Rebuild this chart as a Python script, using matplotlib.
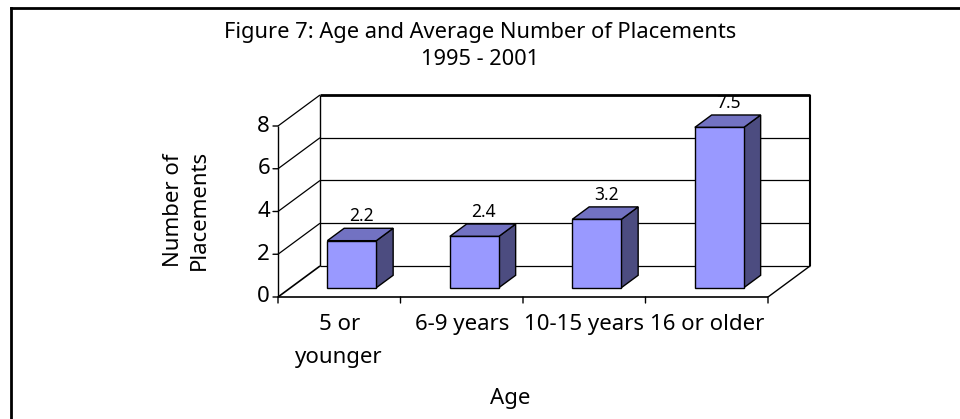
import matplotlib
matplotlib.use('Agg')
import matplotlib.pyplot as plt
from matplotlib.patches import Polygon
from matplotlib.lines import Line2D

# ---- data ----
categories = ['5 or\nyounger', '6-9 years', '10-15 years', '16 or older']
values = [2.2, 2.4, 3.2, 7.5]
value_labels = ['2.2', '2.4', '3.2', '7.5']
yticks = [0, 2, 4, 6, 8]
title = 'Figure 7: Age and Average Number of Placements\n1995 - 2001'
xlabel = 'Age'
ylabel = 'Number of\nPlacements'

plt.rcParams['font.family'] = ['Noto Sans', 'DejaVu Sans']

W, H = 960, 419
fig = plt.figure(figsize=(W / 100, H / 100), dpi=100)
fig.patch.set_facecolor('white')

# front plane of the pseudo-3D plot (pixel coords, origin top-left)
px0, px1, py0, py1 = 278, 768, 297, 126
ax = fig.add_axes([px0 / W, 1 - py0 / H, (px1 - px0) / W, (py0 - py1) / H])
ncat = len(categories)
ymax = yticks[-1]
ax.set_xlim(0, ncat)
ax.set_ylim(0, ymax)
ax.axis('off')

DX = 42 / (px1 - px0) * ncat
DY = 31 / (py0 - py1) * ymax


def P(x, y, d):
    return (x + d * DX, y + d * DY)


def seg(a, b, lw=1.0, color='black', z=1):
    ax.add_line(Line2D([a[0], b[0]], [a[1], b[1]], lw=lw, color=color,
                       clip_on=False, zorder=z, solid_capstyle='butt'))


# walls and gridlines
for v in yticks:
    lw = 2.0 if v == ymax else 0.9
    seg(P(0, v, 1), P(ncat, v, 1), lw=lw)
    seg(P(0, v, 0), P(0, v, 1), lw=1.2 if v == 0 else 0.9)
seg(P(0, 0, 1), P(0, ymax, 1), lw=1.0)
seg(P(ncat, 0, 1), P(ncat, ymax, 1), lw=1.5)
seg(P(0, 0, 0), P(0, ymax, 0), lw=1.0)
seg(P(0, 0, 0), P(ncat, 0, 0), lw=1.2)
seg(P(ncat, 0, 0), P(ncat, 0, 1), lw=1.0)

# tick marks & tick labels
for v in yticks:
    ax.annotate('', xy=(0, v), xytext=(-5, 0), textcoords='offset pixels',
                arrowprops=dict(arrowstyle='-', lw=1, color='black',
                                shrinkA=0, shrinkB=0), annotation_clip=False)
    ax.annotate(str(v), xy=(0, v), xytext=(-8, 0), textcoords='offset pixels',
                ha='right', va='center', fontsize=16, annotation_clip=False)
for i in range(ncat + 1):
    ax.annotate('', xy=(i, 0), xytext=(0, -6), textcoords='offset pixels',
                arrowprops=dict(arrowstyle='-', lw=1, color='black',
                                shrinkA=0, shrinkB=0), annotation_clip=False)
for i, lab in enumerate(categories):
    ax.annotate(lab, xy=(i + 0.5, 0), xytext=(0, -17), textcoords='offset pixels',
                ha='center', va='top', fontsize=16, linespacing=1.75,
                multialignment='center', annotation_clip=False)

# bars
front_c, top_c, side_c = '#9999FF', '#7272C2', '#4C4C80'
bw, d0, d1 = 0.2, 0.3, 0.7
for i, v in enumerate(values):
    xl, xr = i + 0.5 - bw, i + 0.5 + bw
    side = [P(xr, 0, d0), P(xr, 0, d1), P(xr, v, d1), P(xr, v, d0)]
    top = [P(xl, v, d0), P(xr, v, d0), P(xr, v, d1), P(xl, v, d1)]
    front = [P(xl, 0, d0), P(xr, 0, d0), P(xr, v, d0), P(xl, v, d0)]
    for poly, c in ((side, side_c), (top, top_c), (front, front_c)):
        ax.add_patch(Polygon(poly, closed=True, facecolor=c, edgecolor='black',
                             lw=1.0, clip_on=False, zorder=5, joinstyle='miter'))
    ax.annotate(value_labels[i], xy=P(i + 0.5, v, 0.5), xytext=(1, 18),
                textcoords='offset pixels', ha='center', va='center',
                fontsize=12.5, zorder=6, annotation_clip=False)

# titles / axis labels
fig.text(480 / W, 1 - 46 / H, title, ha='center', va='center', fontsize=15.7,
         linespacing=1.4, multialignment='center')
fig.text(510 / W, 1 - 398 / H, xlabel, ha='center', va='center', fontsize=16)
fig.text(186 / W, 1 - 210 / H, ylabel, ha='center', va='center', fontsize=16,
         rotation=90, linespacing=1.3, multialignment='center')

# outer border (left and top edges visible)
fig.add_artist(Line2D([11 / W, 11 / W], [0, 1 - 8 / H], lw=2, color='black',
                      transform=fig.transFigure, solid_capstyle='projecting'))
fig.add_artist(Line2D([11 / W, 1], [1 - 8 / H, 1 - 8 / H], lw=2, color='black',
                      transform=fig.transFigure, solid_capstyle='projecting'))

fig.savefig('out.png', dpi=100, facecolor='white')
